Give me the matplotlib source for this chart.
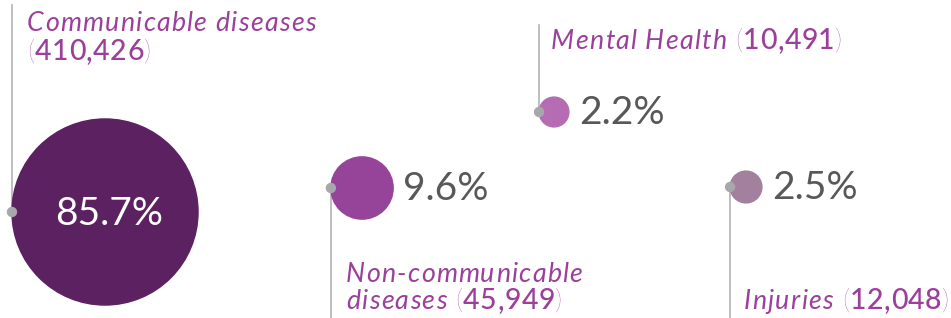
import matplotlib
matplotlib.use("Agg")
import matplotlib.pyplot as plt
from matplotlib.patches import Circle
from matplotlib.font_manager import FontProperties
import numpy as np

plt.rcParams['font.family'] = ['Lato', 'DejaVu Sans']

# data
names = ["Communicable diseases", "Non-communicable diseases", "Mental Health", "Injuries"]
counts = [410426, 45949, 10491, 12048]
pcts = [85.7, 9.6, 2.2, 2.5]
colors = ["#5b2160", "#96449a", "#b66cb2", "#a2809e"]

# layout (pixel coords)
cx = [105, 362, 554, 746]
cy = [212, 188, 112, 187]
label_up = [True, False, True, False]
scale = 10.05  # px radius per sqrt(pct)

W, H = 951, 318
fig = plt.figure(figsize=(W / 100, H / 100), dpi=100)
ax = fig.add_axes([0, 0, 1, 1])
ax.set_xlim(0, W)
ax.set_ylim(H, 0)
ax.axis('off')

label_col = "#9b3f9b"
grey = "#b3b3b6"
fig.canvas.draw()
rend = fig.canvas.get_renderer()

# style, size, weight, tracking(px)
STY = {
    'name': ('italic', 19.3, 'normal', 1.25),
    'paren': ('normal', 20.5, 'light', 0.6),
    'num': ('normal', 20.5, 'medium', 0.5),
}


def label(x, y, parts):
    # draw char by char so letter spacing can be widened
    for txt, kind in parts:
        style, size, weight, track = STY[kind]
        fp = FontProperties(family=['Lato'], style=style, size=size, weight=weight)
        for ch in txt:
            ax.text(x, y, ch, color=label_col, va='baseline', ha='left', fontproperties=fp)
            w, _, _ = rend.get_text_width_height_descent(ch, fp, ismath=False)
            x += w + track


def numparts(v, prefix=None):
    p = [] if prefix is None else [(prefix, 'name')]
    return p + [("(", 'paren'), (f"{v:,}", 'num'), (")", 'paren')]


for i in range(len(names)):
    r = scale * np.sqrt(pcts[i])
    ax.add_patch(Circle((cx[i], cy[i]), r, color=colors[i], zorder=2))
    dx = cx[i] - r
    if label_up[i]:
        top = 5 if i == 0 else 25
        ax.plot([dx, dx], [cy[i], top], color=grey, lw=1.2, zorder=1)
    else:
        ax.plot([dx, dx], [cy[i], H], color=grey, lw=1.2, zorder=1)
    ax.add_patch(Circle((dx, cy[i]), 4.5, color="#a8a8ac", zorder=3))
    ptxt = f"{pcts[i]:.1f}%"
    if i == 0:
        ax.text(cx[i] + 4, cy[i] + 2, ptxt, fontsize=28, color="white",
                ha='center', va='center', zorder=4)
    else:
        ax.text(cx[i] + r + 10, cy[i] + 1, ptxt, fontsize=28, color="#58585a",
                ha='left', va='center', zorder=4)

label(27, 31, [("Communicable diseases", 'name')])
label(27, 60, numparts(counts[0]))
label(346, 282, [("Non-communicable", 'name')])
label(346, 309, numparts(counts[1], "diseases "))
label(551, 49, numparts(counts[2], "Mental Health "))
label(744, 309, numparts(counts[3], "Injuries "))

fig.savefig("out.png", dpi=100)
